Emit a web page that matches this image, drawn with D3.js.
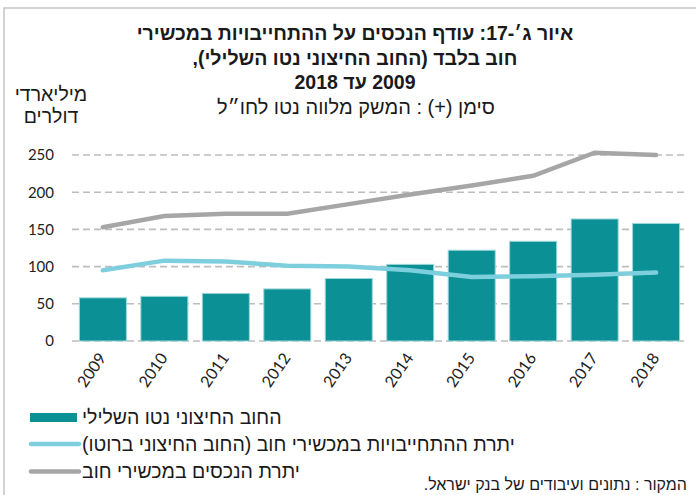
<!DOCTYPE html>
<html>
<head>
<meta charset="utf-8">
<script src="https://cdn.jsdelivr.net/npm/d3@7/dist/d3.min.js"></script>
<style>
  body { margin: 0; background: #fff; }
  text { font-family: "Liberation Sans", "DejaVu Sans", sans-serif; fill: #1a1a1a; }
  .tick text { font-family: Lato, "Open Sans", sans-serif; font-size: 15px; fill: #222; }
</style>
</head>
<body>
<script>
// chart values
var years = ["2009", "2010", "2011", "2012", "2013", "2014", "2015", "2016", "2017", "2018"]
var netDebt = [58, 60, 64, 70, 84, 103, 122, 134, 164, 158]
var grossLiab = [95, 108, 107, 101, 100, 95, 86, 87, 89, 92]
var debtAssets = [153, 168, 171, 171, 184, 197, 209, 222, 253, 250]
var yTicks = [0, 50, 100, 150, 200, 250]

var titleLines = [
  "איור ג׳-17: עודף הנכסים על ההתחייבויות במכשירי",
  "חוב בלבד (החוב החיצוני נטו השלילי),",
  "2009 עד 2018"
]
var subtitle = "סימן (+) : המשק מלווה נטו לחו״ל"
var unitLines = ["מיליארדי", "דולרים"]
var legendNames = [
  "החוב החיצוני נטו השלילי",
  "יתרת ההתחייבויות במכשירי חוב (החוב החיצוני ברוטו)",
  "יתרת הנכסים במכשירי חוב"
]
var source = "המקור : נתונים ועיבודים של בנק ישראל."

var W = 696, H = 495
var margin = {left: 72, right: 9, top: 155, bottom: 154}

var svg = d3.select("body").append("svg")
  .attr("width", W)
  .attr("height", H)

// frame
svg.append("path")
  .attr("d", "M4," + H + "V8H" + W)
  .attr("fill", "none")
  .attr("stroke", "#c4c4c4")
  .attr("stroke-width", 1.5)

var x = d3.scaleBand()
  .domain(years)
  .range([margin.left, W - margin.right])
  .paddingInner(0.235)
  .paddingOuter(0.12)

var y = d3.scaleLinear()
  .domain([0, 250])
  .range([H - margin.bottom, margin.top])

// grid
svg.append("g")
  .selectAll("line")
  .data(yTicks)
  .enter()
  .append("line")
  .attr("x1", margin.left)
  .attr("x2", W - margin.right)
  .attr("y1", function(d) { return y(d) })
  .attr("y2", function(d) { return y(d) })
  .attr("stroke", "#bdbdbd")
  .attr("stroke-width", 1.6)
  .attr("stroke-dasharray", "7,4")

// y axis labels
var yAxis = d3.axisLeft(y).tickValues(yTicks).tickSize(0).tickPadding(0)
var gy = svg.append("g")
  .attr("transform", "translate(54,0)")
  .call(yAxis)
gy.select(".domain").remove()

// x axis labels
var xAxis = d3.axisBottom(x).tickSize(0)
var gx = svg.append("g")
  .attr("transform", "translate(0," + (H - margin.bottom) + ")")
  .call(xAxis)
gx.select(".domain").remove()
gx.selectAll("text")
  .attr("text-anchor", "end")
  .attr("dy", 0)
  .attr("y", 0)
  .style("font-size", "16px")
  .attr("transform", "translate(4,17) rotate(-55)")

// bars
svg.append("g")
  .selectAll("rect")
  .data(netDebt)
  .enter()
  .append("rect")
  .attr("x", function(d, i) { return x(years[i]) })
  .attr("width", x.bandwidth())
  .attr("y", function(d) { return y(d) })
  .attr("height", function(d) { return y(0) - y(d) })
  .attr("fill", "#0a9095")
  .attr("stroke", "#9fd6d8")
  .attr("stroke-width", 1)

var line = d3.line()
  .x(function(d, i) { return x(years[i]) + x.bandwidth() / 2 })
  .y(function(d) { return y(d) })

svg.append("path")
  .datum(grossLiab)
  .attr("d", line)
  .attr("fill", "none")
  .attr("stroke", "#7dcfdd")
  .attr("stroke-width", 4.5)
  .attr("stroke-linecap", "round")

svg.append("path")
  .datum(debtAssets)
  .attr("d", line)
  .attr("fill", "none")
  .attr("stroke", "#a6a6a6")
  .attr("stroke-width", 4.5)
  .attr("stroke-linecap", "round")

// titles
svg.selectAll(".title")
  .data(titleLines)
  .enter()
  .append("text")
  .attr("class", "title")
  .attr("x", 355)
  .attr("y", function(d, i) { return 40 + i * 24.5 })
  .attr("direction", "rtl")
  .attr("text-anchor", "middle")
  .attr("font-weight", "bold")
  .attr("font-size", "19.5px")
  .text(function(d) { return d })

svg.append("text")
  .attr("x", 356)
  .attr("y", 114)
  .attr("direction", "rtl")
  .attr("text-anchor", "middle")
  .attr("font-size", "20px")
  .text(subtitle)

svg.selectAll(".unit")
  .data(unitLines)
  .enter()
  .append("text")
  .attr("class", "unit")
  .attr("x", 51)
  .attr("y", function(d, i) { return 101 + i * 22 })
  .attr("direction", "rtl")
  .attr("text-anchor", "middle")
  .attr("font-size", "19.5px")
  .text(function(d) { return d })

// legend
var leg = svg.append("g")
var legY = [417.5, 444, 471.5]
leg.append("rect")
  .attr("x", 30).attr("y", legY[0] - 4.5)
  .attr("width", 47).attr("height", 9)
  .attr("fill", "#0a9095")
leg.append("line")
  .attr("x1", 31).attr("x2", 79)
  .attr("y1", legY[1]).attr("y2", legY[1])
  .attr("stroke", "#7dcfdd").attr("stroke-width", 4.5).attr("stroke-linecap", "round")
leg.append("line")
  .attr("x1", 31).attr("x2", 79)
  .attr("y1", legY[2]).attr("y2", legY[2])
  .attr("stroke", "#a6a6a6").attr("stroke-width", 4.5).attr("stroke-linecap", "round")

leg.selectAll("text")
  .data(legendNames)
  .enter()
  .append("text")
  .attr("x", 82)
  .attr("y", function(d, i) { return legY[i] + 6.5 })
  .attr("direction", "rtl")
  .attr("text-anchor", "end")
  .attr("font-size", "19.5px")
  .text(function(d) { return d })

svg.append("text")
  .attr("x", 687)
  .attr("y", 490)
  .attr("direction", "rtl")
  .attr("text-anchor", "start")
  .attr("font-size", "16px")
  .text(source)
</script>
</body>
</html>
